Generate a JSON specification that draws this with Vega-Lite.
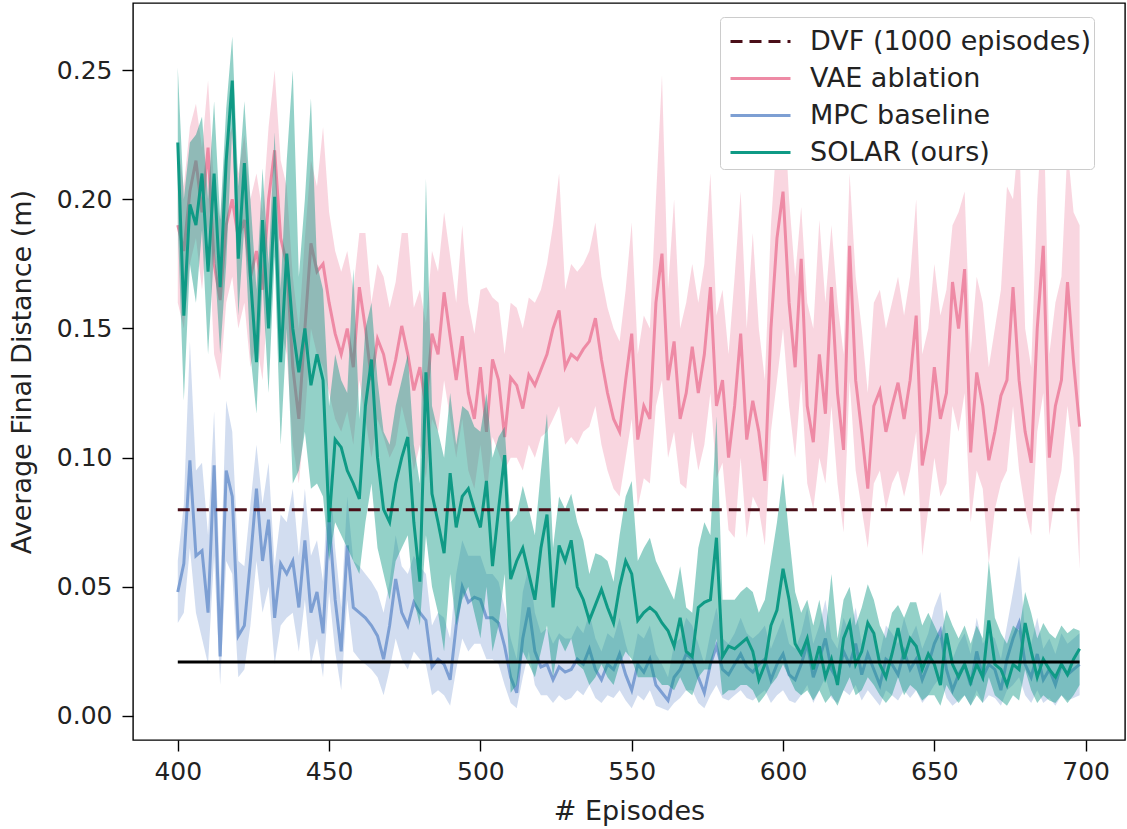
{
"$schema":"https://vega.github.io/schema/vega-lite/v6.json",
"width":992,"height":737,
"autosize":{"type":"none"},
"padding":{"left":133,"top":3,"right":2,"bottom":89},
"background":"white",
"config":{"view":{"stroke":"#000","strokeWidth":1.4},"font":"DejaVu Sans",
"axis":{"domain":false,"grid":false,"tickColor":"#000","tickWidth":1.4,"tickSize":11,"labelColor":"#222","titleColor":"#222","labelFont":"DejaVu Sans","titleFont":"DejaVu Sans","titleFontWeight":"normal"}},
"datasets":{
"dvf":[{"name":"DVF (1000 episodes)","ep":400,"ep2":698,"y":0.0798}],
"goal":[{"name":"goal","ep":400,"ep2":698,"y":0.0209}],
"d":[
{"ep":400,"v":0.190,"vl":0.160,"vh":0.222,"m":0.048,"ml":0.036,"mh":0.060,"s":0.222,"sl":0.190,"sh":0.251},
{"ep":402,"v":0.180,"vl":0.150,"vh":0.205,"m":0.059,"ml":0.040,"mh":0.082,"s":0.155,"sl":0.122,"sh":0.200},
{"ep":404,"v":0.203,"vl":0.175,"vh":0.228,"m":0.099,"ml":0.065,"mh":0.145,"s":0.198,"sl":0.175,"sh":0.222},
{"ep":406,"v":0.215,"vl":0.185,"vh":0.237,"m":0.062,"ml":0.040,"mh":0.095,"s":0.190,"sl":0.160,"sh":0.225},
{"ep":408,"v":0.195,"vl":0.165,"vh":0.220,"m":0.064,"ml":0.030,"mh":0.098,"s":0.210,"sl":0.188,"sh":0.232},
{"ep":410,"v":0.220,"vl":0.190,"vh":0.246,"m":0.040,"ml":0.020,"mh":0.070,"s":0.172,"sl":0.140,"sh":0.200},
{"ep":412,"v":0.175,"vl":0.140,"vh":0.205,"m":0.097,"ml":0.062,"mh":0.118,"s":0.210,"sl":0.180,"sh":0.238},
{"ep":414,"v":0.161,"vl":0.130,"vh":0.192,"m":0.023,"ml":0.012,"mh":0.050,"s":0.166,"sl":0.140,"sh":0.192},
{"ep":416,"v":0.190,"vl":0.160,"vh":0.222,"m":0.095,"ml":0.060,"mh":0.122,"s":0.215,"sl":0.175,"sh":0.235},
{"ep":418,"v":0.200,"vl":0.170,"vh":0.228,"m":0.085,"ml":0.055,"mh":0.110,"s":0.246,"sl":0.228,"sh":0.263},
{"ep":420,"v":0.185,"vl":0.150,"vh":0.210,"m":0.031,"ml":0.015,"mh":0.060,"s":0.177,"sl":0.155,"sh":0.205},
{"ep":422,"v":0.192,"vl":0.160,"vh":0.225,"m":0.035,"ml":0.018,"mh":0.058,"s":0.214,"sl":0.190,"sh":0.238},
{"ep":424,"v":0.170,"vl":0.135,"vh":0.200,"m":0.060,"ml":0.035,"mh":0.082,"s":0.170,"sl":0.140,"sh":0.200},
{"ep":426,"v":0.180,"vl":0.145,"vh":0.210,"m":0.088,"ml":0.060,"mh":0.105,"s":0.137,"sl":0.117,"sh":0.165},
{"ep":428,"v":0.165,"vl":0.130,"vh":0.195,"m":0.060,"ml":0.040,"mh":0.082,"s":0.192,"sl":0.168,"sh":0.212},
{"ep":430,"v":0.200,"vl":0.165,"vh":0.228,"m":0.076,"ml":0.050,"mh":0.098,"s":0.150,"sl":0.125,"sh":0.175},
{"ep":432,"v":0.219,"vl":0.185,"vh":0.250,"m":0.038,"ml":0.020,"mh":0.058,"s":0.201,"sl":0.178,"sh":0.226},
{"ep":434,"v":0.185,"vl":0.150,"vh":0.215,"m":0.059,"ml":0.035,"mh":0.078,"s":0.137,"sl":0.105,"sh":0.165},
{"ep":436,"v":0.175,"vl":0.140,"vh":0.205,"m":0.055,"ml":0.038,"mh":0.075,"s":0.179,"sl":0.150,"sh":0.215},
{"ep":438,"v":0.135,"vl":0.105,"vh":0.170,"m":0.060,"ml":0.040,"mh":0.088,"s":0.150,"sl":0.090,"sh":0.250},
{"ep":440,"v":0.115,"vl":0.090,"vh":0.150,"m":0.042,"ml":0.025,"mh":0.062,"s":0.133,"sl":0.095,"sh":0.170},
{"ep":442,"v":0.150,"vl":0.115,"vh":0.185,"m":0.068,"ml":0.045,"mh":0.088,"s":0.150,"sl":0.110,"sh":0.200},
{"ep":444,"v":0.183,"vl":0.150,"vh":0.215,"m":0.040,"ml":0.020,"mh":0.062,"s":0.128,"sl":0.088,"sh":0.239},
{"ep":446,"v":0.172,"vl":0.140,"vh":0.205,"m":0.048,"ml":0.030,"mh":0.068,"s":0.140,"sl":0.090,"sh":0.175},
{"ep":448,"v":0.175,"vl":0.135,"vh":0.228,"m":0.032,"ml":0.015,"mh":0.052,"s":0.130,"sl":0.085,"sh":0.165},
{"ep":450,"v":0.160,"vl":0.125,"vh":0.195,"m":0.076,"ml":0.048,"mh":0.100,"s":0.075,"sl":0.060,"sh":0.120},
{"ep":452,"v":0.148,"vl":0.115,"vh":0.180,"m":0.045,"ml":0.025,"mh":0.065,"s":0.107,"sl":0.075,"sh":0.140},
{"ep":454,"v":0.140,"vl":0.110,"vh":0.172,"m":0.025,"ml":0.010,"mh":0.042,"s":0.104,"sl":0.070,"sh":0.130},
{"ep":456,"v":0.150,"vl":0.118,"vh":0.180,"m":0.066,"ml":0.045,"mh":0.085,"s":0.095,"sl":0.065,"sh":0.125},
{"ep":458,"v":0.135,"vl":0.105,"vh":0.165,"m":0.042,"ml":0.025,"mh":0.060,"s":0.090,"sl":0.060,"sh":0.173},
{"ep":460,"v":0.166,"vl":0.130,"vh":0.187,"m":0.040,"ml":0.022,"mh":0.058,"s":0.084,"sl":0.055,"sh":0.115},
{"ep":462,"v":0.150,"vl":0.115,"vh":0.187,"m":0.038,"ml":0.020,"mh":0.055,"s":0.120,"sl":0.075,"sh":0.150},
{"ep":464,"v":0.130,"vl":0.100,"vh":0.160,"m":0.035,"ml":0.018,"mh":0.052,"s":0.138,"sl":0.090,"sh":0.160},
{"ep":466,"v":0.146,"vl":0.115,"vh":0.175,"m":0.031,"ml":0.015,"mh":0.048,"s":0.100,"sl":0.065,"sh":0.130},
{"ep":468,"v":0.140,"vl":0.108,"vh":0.170,"m":0.022,"ml":0.008,"mh":0.040,"s":0.080,"sl":0.055,"sh":0.110},
{"ep":470,"v":0.128,"vl":0.100,"vh":0.158,"m":0.035,"ml":0.018,"mh":0.052,"s":0.075,"sl":0.045,"sh":0.105},
{"ep":472,"v":0.138,"vl":0.105,"vh":0.168,"m":0.053,"ml":0.030,"mh":0.070,"s":0.090,"sl":0.060,"sh":0.120},
{"ep":474,"v":0.151,"vl":0.120,"vh":0.187,"m":0.040,"ml":0.022,"mh":0.058,"s":0.100,"sl":0.065,"sh":0.130},
{"ep":476,"v":0.140,"vl":0.110,"vh":0.187,"m":0.035,"ml":0.018,"mh":0.055,"s":0.108,"sl":0.070,"sh":0.140},
{"ep":478,"v":0.126,"vl":0.095,"vh":0.158,"m":0.044,"ml":0.025,"mh":0.062,"s":0.075,"sl":0.045,"sh":0.105},
{"ep":480,"v":0.135,"vl":0.105,"vh":0.165,"m":0.040,"ml":0.022,"mh":0.058,"s":0.052,"sl":0.035,"sh":0.090},
{"ep":482,"v":0.120,"vl":0.092,"vh":0.152,"m":0.037,"ml":0.020,"mh":0.055,"s":0.133,"sl":0.070,"sh":0.208},
{"ep":484,"v":0.148,"vl":0.115,"vh":0.180,"m":0.019,"ml":0.008,"mh":0.035,"s":0.086,"sl":0.050,"sh":0.120},
{"ep":486,"v":0.140,"vl":0.110,"vh":0.172,"m":0.022,"ml":0.010,"mh":0.040,"s":0.075,"sl":0.040,"sh":0.110},
{"ep":488,"v":0.164,"vl":0.130,"vh":0.195,"m":0.020,"ml":0.008,"mh":0.038,"s":0.063,"sl":0.025,"sh":0.100},
{"ep":490,"v":0.147,"vl":0.115,"vh":0.178,"m":0.014,"ml":0.004,"mh":0.030,"s":0.094,"sl":0.055,"sh":0.125},
{"ep":492,"v":0.130,"vl":0.100,"vh":0.160,"m":0.035,"ml":0.018,"mh":0.055,"s":0.073,"sl":0.035,"sh":0.105},
{"ep":494,"v":0.147,"vl":0.115,"vh":0.190,"m":0.050,"ml":0.030,"mh":0.068,"s":0.085,"sl":0.045,"sh":0.120},
{"ep":496,"v":0.125,"vl":0.095,"vh":0.160,"m":0.044,"ml":0.025,"mh":0.062,"s":0.088,"sl":0.050,"sh":0.118},
{"ep":498,"v":0.115,"vl":0.088,"vh":0.148,"m":0.046,"ml":0.028,"mh":0.062,"s":0.080,"sl":0.040,"sh":0.112},
{"ep":500,"v":0.135,"vl":0.105,"vh":0.165,"m":0.045,"ml":0.028,"mh":0.062,"s":0.073,"sl":0.030,"sh":0.110},
{"ep":502,"v":0.110,"vl":0.085,"vh":0.166,"m":0.038,"ml":0.022,"mh":0.055,"s":0.091,"sl":0.050,"sh":0.125},
{"ep":504,"v":0.138,"vl":0.108,"vh":0.162,"m":0.038,"ml":0.022,"mh":0.055,"s":0.058,"sl":0.025,"sh":0.100},
{"ep":506,"v":0.130,"vl":0.102,"vh":0.160,"m":0.036,"ml":0.020,"mh":0.052,"s":0.080,"sl":0.035,"sh":0.108},
{"ep":508,"v":0.108,"vl":0.095,"vh":0.140,"m":0.027,"ml":0.012,"mh":0.042,"s":0.101,"sl":0.055,"sh":0.112},
{"ep":510,"v":0.131,"vl":0.100,"vh":0.160,"m":0.015,"ml":0.005,"mh":0.030,"s":0.053,"sl":0.009,"sh":0.075},
{"ep":512,"v":0.128,"vl":0.100,"vh":0.158,"m":0.009,"ml":0.003,"mh":0.022,"s":0.060,"sl":0.012,"sh":0.078},
{"ep":514,"v":0.119,"vl":0.095,"vh":0.150,"m":0.030,"ml":0.015,"mh":0.048,"s":0.065,"sl":0.025,"sh":0.089},
{"ep":516,"v":0.132,"vl":0.105,"vh":0.162,"m":0.042,"ml":0.025,"mh":0.058,"s":0.055,"sl":0.020,"sh":0.080},
{"ep":518,"v":0.128,"vl":0.100,"vh":0.160,"m":0.025,"ml":0.012,"mh":0.040,"s":0.045,"sl":0.015,"sh":0.070},
{"ep":520,"v":0.134,"vl":0.108,"vh":0.165,"m":0.019,"ml":0.008,"mh":0.032,"s":0.065,"sl":0.025,"sh":0.095},
{"ep":522,"v":0.140,"vl":0.110,"vh":0.175,"m":0.020,"ml":0.008,"mh":0.034,"s":0.078,"sl":0.035,"sh":0.117},
{"ep":524,"v":0.150,"vl":0.115,"vh":0.190,"m":0.014,"ml":0.005,"mh":0.028,"s":0.042,"sl":0.015,"sh":0.065},
{"ep":526,"v":0.157,"vl":0.120,"vh":0.210,"m":0.019,"ml":0.008,"mh":0.032,"s":0.066,"sl":0.030,"sh":0.085},
{"ep":528,"v":0.135,"vl":0.105,"vh":0.165,"m":0.017,"ml":0.006,"mh":0.030,"s":0.060,"sl":0.025,"sh":0.080},
{"ep":530,"v":0.140,"vl":0.108,"vh":0.175,"m":0.018,"ml":0.007,"mh":0.030,"s":0.068,"sl":0.030,"sh":0.086},
{"ep":532,"v":0.138,"vl":0.105,"vh":0.172,"m":0.022,"ml":0.010,"mh":0.035,"s":0.050,"sl":0.020,"sh":0.075},
{"ep":534,"v":0.142,"vl":0.110,"vh":0.175,"m":0.020,"ml":0.008,"mh":0.032,"s":0.045,"sl":0.018,"sh":0.068},
{"ep":536,"v":0.145,"vl":0.112,"vh":0.180,"m":0.026,"ml":0.012,"mh":0.040,"s":0.037,"sl":0.012,"sh":0.055},
{"ep":538,"v":0.154,"vl":0.120,"vh":0.191,"m":0.018,"ml":0.007,"mh":0.030,"s":0.043,"sl":0.015,"sh":0.063},
{"ep":540,"v":0.138,"vl":0.105,"vh":0.170,"m":0.014,"ml":0.005,"mh":0.025,"s":0.049,"sl":0.020,"sh":0.062},
{"ep":542,"v":0.125,"vl":0.095,"vh":0.158,"m":0.020,"ml":0.008,"mh":0.032,"s":0.042,"sl":0.015,"sh":0.060},
{"ep":544,"v":0.115,"vl":0.088,"vh":0.150,"m":0.018,"ml":0.007,"mh":0.030,"s":0.036,"sl":0.012,"sh":0.052},
{"ep":546,"v":0.110,"vl":0.085,"vh":0.145,"m":0.024,"ml":0.010,"mh":0.038,"s":0.050,"sl":0.020,"sh":0.070},
{"ep":548,"v":0.130,"vl":0.100,"vh":0.165,"m":0.016,"ml":0.006,"mh":0.028,"s":0.060,"sl":0.025,"sh":0.085},
{"ep":550,"v":0.148,"vl":0.115,"vh":0.191,"m":0.010,"ml":0.003,"mh":0.020,"s":0.055,"sl":0.022,"sh":0.091},
{"ep":552,"v":0.107,"vl":0.081,"vh":0.140,"m":0.020,"ml":0.008,"mh":0.032,"s":0.037,"sl":0.015,"sh":0.060},
{"ep":554,"v":0.120,"vl":0.092,"vh":0.155,"m":0.017,"ml":0.006,"mh":0.030,"s":0.040,"sl":0.015,"sh":0.065},
{"ep":556,"v":0.115,"vl":0.090,"vh":0.150,"m":0.022,"ml":0.010,"mh":0.035,"s":0.042,"sl":0.015,"sh":0.069},
{"ep":558,"v":0.160,"vl":0.120,"vh":0.200,"m":0.012,"ml":0.004,"mh":0.024,"s":0.040,"sl":0.015,"sh":0.060},
{"ep":560,"v":0.179,"vl":0.130,"vh":0.248,"m":0.009,"ml":0.003,"mh":0.020,"s":0.036,"sl":0.012,"sh":0.055},
{"ep":562,"v":0.130,"vl":0.100,"vh":0.165,"m":0.006,"ml":0.002,"mh":0.015,"s":0.033,"sl":0.012,"sh":0.050},
{"ep":564,"v":0.145,"vl":0.110,"vh":0.200,"m":0.015,"ml":0.005,"mh":0.028,"s":0.027,"sl":0.010,"sh":0.045},
{"ep":566,"v":0.115,"vl":0.090,"vh":0.150,"m":0.018,"ml":0.007,"mh":0.030,"s":0.038,"sl":0.015,"sh":0.058},
{"ep":568,"v":0.125,"vl":0.088,"vh":0.160,"m":0.024,"ml":0.010,"mh":0.038,"s":0.025,"sl":0.010,"sh":0.042},
{"ep":570,"v":0.143,"vl":0.110,"vh":0.175,"m":0.022,"ml":0.010,"mh":0.035,"s":0.023,"sl":0.008,"sh":0.040},
{"ep":572,"v":0.125,"vl":0.095,"vh":0.160,"m":0.015,"ml":0.005,"mh":0.028,"s":0.042,"sl":0.015,"sh":0.065},
{"ep":574,"v":0.140,"vl":0.105,"vh":0.175,"m":0.009,"ml":0.003,"mh":0.020,"s":0.044,"sl":0.018,"sh":0.075},
{"ep":576,"v":0.166,"vl":0.125,"vh":0.210,"m":0.020,"ml":0.008,"mh":0.032,"s":0.045,"sl":0.018,"sh":0.070},
{"ep":578,"v":0.120,"vl":0.092,"vh":0.155,"m":0.027,"ml":0.012,"mh":0.042,"s":0.069,"sl":0.030,"sh":0.116},
{"ep":580,"v":0.130,"vl":0.098,"vh":0.165,"m":0.018,"ml":0.007,"mh":0.030,"s":0.023,"sl":0.008,"sh":0.045},
{"ep":582,"v":0.100,"vl":0.072,"vh":0.140,"m":0.016,"ml":0.006,"mh":0.028,"s":0.027,"sl":0.010,"sh":0.045},
{"ep":584,"v":0.120,"vl":0.069,"vh":0.170,"m":0.020,"ml":0.008,"mh":0.032,"s":0.026,"sl":0.010,"sh":0.045},
{"ep":586,"v":0.148,"vl":0.100,"vh":0.203,"m":0.024,"ml":0.010,"mh":0.038,"s":0.028,"sl":0.012,"sh":0.048},
{"ep":588,"v":0.107,"vl":0.069,"vh":0.150,"m":0.019,"ml":0.007,"mh":0.032,"s":0.030,"sl":0.012,"sh":0.050},
{"ep":590,"v":0.122,"vl":0.085,"vh":0.187,"m":0.017,"ml":0.006,"mh":0.030,"s":0.025,"sl":0.010,"sh":0.048},
{"ep":592,"v":0.110,"vl":0.080,"vh":0.150,"m":0.020,"ml":0.008,"mh":0.032,"s":0.014,"sl":0.005,"sh":0.040},
{"ep":594,"v":0.091,"vl":0.066,"vh":0.130,"m":0.022,"ml":0.010,"mh":0.035,"s":0.020,"sl":0.008,"sh":0.045},
{"ep":596,"v":0.150,"vl":0.110,"vh":0.190,"m":0.014,"ml":0.005,"mh":0.026,"s":0.035,"sl":0.012,"sh":0.060},
{"ep":598,"v":0.185,"vl":0.130,"vh":0.225,"m":0.020,"ml":0.008,"mh":0.032,"s":0.041,"sl":0.015,"sh":0.075},
{"ep":600,"v":0.203,"vl":0.150,"vh":0.245,"m":0.024,"ml":0.010,"mh":0.038,"s":0.057,"sl":0.020,"sh":0.094},
{"ep":602,"v":0.160,"vl":0.120,"vh":0.200,"m":0.016,"ml":0.006,"mh":0.028,"s":0.045,"sl":0.015,"sh":0.070},
{"ep":604,"v":0.135,"vl":0.100,"vh":0.170,"m":0.014,"ml":0.005,"mh":0.026,"s":0.028,"sl":0.010,"sh":0.048},
{"ep":606,"v":0.177,"vl":0.130,"vh":0.197,"m":0.020,"ml":0.008,"mh":0.032,"s":0.024,"sl":0.008,"sh":0.040},
{"ep":608,"v":0.120,"vl":0.090,"vh":0.160,"m":0.028,"ml":0.012,"mh":0.042,"s":0.030,"sl":0.010,"sh":0.045},
{"ep":610,"v":0.106,"vl":0.080,"vh":0.150,"m":0.015,"ml":0.005,"mh":0.028,"s":0.018,"sl":0.006,"sh":0.035},
{"ep":612,"v":0.140,"vl":0.100,"vh":0.192,"m":0.022,"ml":0.010,"mh":0.035,"s":0.027,"sl":0.010,"sh":0.045},
{"ep":614,"v":0.117,"vl":0.090,"vh":0.160,"m":0.030,"ml":0.015,"mh":0.045,"s":0.015,"sl":0.005,"sh":0.032},
{"ep":616,"v":0.166,"vl":0.120,"vh":0.190,"m":0.018,"ml":0.007,"mh":0.030,"s":0.022,"sl":0.008,"sh":0.055},
{"ep":618,"v":0.125,"vl":0.090,"vh":0.160,"m":0.014,"ml":0.005,"mh":0.026,"s":0.012,"sl":0.004,"sh":0.030},
{"ep":620,"v":0.103,"vl":0.071,"vh":0.140,"m":0.025,"ml":0.010,"mh":0.038,"s":0.030,"sl":0.010,"sh":0.045},
{"ep":622,"v":0.182,"vl":0.130,"vh":0.210,"m":0.020,"ml":0.008,"mh":0.032,"s":0.036,"sl":0.015,"sh":0.050},
{"ep":624,"v":0.130,"vl":0.095,"vh":0.170,"m":0.028,"ml":0.012,"mh":0.042,"s":0.020,"sl":0.008,"sh":0.035},
{"ep":626,"v":0.110,"vl":0.080,"vh":0.150,"m":0.016,"ml":0.006,"mh":0.028,"s":0.025,"sl":0.010,"sh":0.042},
{"ep":628,"v":0.088,"vl":0.065,"vh":0.125,"m":0.024,"ml":0.010,"mh":0.038,"s":0.036,"sl":0.015,"sh":0.051},
{"ep":630,"v":0.120,"vl":0.090,"vh":0.160,"m":0.018,"ml":0.007,"mh":0.030,"s":0.032,"sl":0.012,"sh":0.045},
{"ep":632,"v":0.126,"vl":0.095,"vh":0.165,"m":0.012,"ml":0.004,"mh":0.024,"s":0.020,"sl":0.008,"sh":0.035},
{"ep":634,"v":0.110,"vl":0.080,"vh":0.150,"m":0.022,"ml":0.010,"mh":0.035,"s":0.015,"sl":0.005,"sh":0.030},
{"ep":636,"v":0.120,"vl":0.090,"vh":0.160,"m":0.020,"ml":0.008,"mh":0.032,"s":0.024,"sl":0.008,"sh":0.040},
{"ep":638,"v":0.129,"vl":0.095,"vh":0.170,"m":0.016,"ml":0.006,"mh":0.028,"s":0.034,"sl":0.015,"sh":0.043},
{"ep":640,"v":0.115,"vl":0.085,"vh":0.155,"m":0.025,"ml":0.010,"mh":0.038,"s":0.022,"sl":0.008,"sh":0.038},
{"ep":642,"v":0.130,"vl":0.095,"vh":0.170,"m":0.018,"ml":0.007,"mh":0.030,"s":0.030,"sl":0.012,"sh":0.044},
{"ep":644,"v":0.155,"vl":0.110,"vh":0.200,"m":0.022,"ml":0.010,"mh":0.035,"s":0.027,"sl":0.010,"sh":0.044},
{"ep":646,"v":0.097,"vl":0.062,"vh":0.140,"m":0.014,"ml":0.005,"mh":0.026,"s":0.018,"sl":0.006,"sh":0.035},
{"ep":648,"v":0.110,"vl":0.080,"vh":0.150,"m":0.020,"ml":0.008,"mh":0.032,"s":0.024,"sl":0.008,"sh":0.040},
{"ep":650,"v":0.135,"vl":0.100,"vh":0.175,"m":0.028,"ml":0.012,"mh":0.042,"s":0.020,"sl":0.008,"sh":0.035},
{"ep":652,"v":0.115,"vl":0.085,"vh":0.155,"m":0.033,"ml":0.015,"mh":0.048,"s":0.012,"sl":0.004,"sh":0.030},
{"ep":654,"v":0.125,"vl":0.090,"vh":0.165,"m":0.018,"ml":0.007,"mh":0.030,"s":0.032,"sl":0.012,"sh":0.041},
{"ep":656,"v":0.168,"vl":0.120,"vh":0.190,"m":0.010,"ml":0.004,"mh":0.022,"s":0.020,"sl":0.008,"sh":0.035},
{"ep":658,"v":0.150,"vl":0.110,"vh":0.195,"m":0.016,"ml":0.006,"mh":0.028,"s":0.015,"sl":0.005,"sh":0.030},
{"ep":660,"v":0.173,"vl":0.125,"vh":0.203,"m":0.020,"ml":0.008,"mh":0.032,"s":0.020,"sl":0.008,"sh":0.035},
{"ep":662,"v":0.102,"vl":0.075,"vh":0.140,"m":0.012,"ml":0.004,"mh":0.024,"s":0.013,"sl":0.004,"sh":0.028},
{"ep":664,"v":0.133,"vl":0.095,"vh":0.170,"m":0.025,"ml":0.010,"mh":0.038,"s":0.020,"sl":0.008,"sh":0.035},
{"ep":666,"v":0.120,"vl":0.088,"vh":0.160,"m":0.015,"ml":0.005,"mh":0.028,"s":0.015,"sl":0.005,"sh":0.030},
{"ep":668,"v":0.099,"vl":0.059,"vh":0.135,"m":0.020,"ml":0.008,"mh":0.032,"s":0.037,"sl":0.015,"sh":0.060},
{"ep":670,"v":0.110,"vl":0.080,"vh":0.150,"m":0.018,"ml":0.007,"mh":0.030,"s":0.020,"sl":0.008,"sh":0.038},
{"ep":672,"v":0.124,"vl":0.090,"vh":0.165,"m":0.010,"ml":0.004,"mh":0.022,"s":0.018,"sl":0.006,"sh":0.032},
{"ep":674,"v":0.130,"vl":0.095,"vh":0.205,"m":0.022,"ml":0.010,"mh":0.035,"s":0.012,"sl":0.004,"sh":0.028},
{"ep":676,"v":0.166,"vl":0.120,"vh":0.200,"m":0.030,"ml":0.012,"mh":0.048,"s":0.020,"sl":0.008,"sh":0.035},
{"ep":678,"v":0.130,"vl":0.095,"vh":0.226,"m":0.036,"ml":0.015,"mh":0.062,"s":0.018,"sl":0.006,"sh":0.033},
{"ep":680,"v":0.110,"vl":0.080,"vh":0.150,"m":0.020,"ml":0.008,"mh":0.032,"s":0.036,"sl":0.018,"sh":0.048},
{"ep":682,"v":0.098,"vl":0.070,"vh":0.135,"m":0.015,"ml":0.005,"mh":0.028,"s":0.025,"sl":0.010,"sh":0.040},
{"ep":684,"v":0.150,"vl":0.110,"vh":0.200,"m":0.024,"ml":0.010,"mh":0.038,"s":0.015,"sl":0.005,"sh":0.030},
{"ep":686,"v":0.182,"vl":0.125,"vh":0.240,"m":0.014,"ml":0.005,"mh":0.026,"s":0.022,"sl":0.008,"sh":0.036},
{"ep":688,"v":0.100,"vl":0.070,"vh":0.140,"m":0.018,"ml":0.007,"mh":0.030,"s":0.018,"sl":0.006,"sh":0.032},
{"ep":690,"v":0.120,"vl":0.085,"vh":0.160,"m":0.012,"ml":0.004,"mh":0.024,"s":0.015,"sl":0.005,"sh":0.030},
{"ep":692,"v":0.130,"vl":0.095,"vh":0.170,"m":0.020,"ml":0.008,"mh":0.032,"s":0.020,"sl":0.008,"sh":0.035},
{"ep":694,"v":0.168,"vl":0.120,"vh":0.220,"m":0.016,"ml":0.006,"mh":0.028,"s":0.016,"sl":0.005,"sh":0.032},
{"ep":696,"v":0.137,"vl":0.100,"vh":0.195,"m":0.018,"ml":0.007,"mh":0.030,"s":0.022,"sl":0.008,"sh":0.034},
{"ep":698,"v":0.112,"vl":0.057,"vh":0.190,"m":0.020,"ml":0.008,"mh":0.032,"s":0.026,"sl":0.012,"sh":0.033}
]},
"layer":[
{"data":{"name":"d"},"mark":{"type":"area","color":"#ee8aa5","opacity":0.35},
 "encoding":{
  "x":{"field":"ep","type":"quantitative","title":"# Episodes","scale":{"domain":[385.2,713],"nice":false,"zero":false},
       "axis":{"values":[400,450,500,550,600,650,700],"format":"d","labelFontSize":25,"labelPadding":8,"titleFontSize":27,"titlePadding":14}},
  "y":{"field":"vl","type":"quantitative","title":"Average Final Distance (m)","scale":{"domain":[-0.0093,0.276],"nice":false,"zero":false},
       "axis":{"values":[0,0.05,0.1,0.15,0.2,0.25],"format":".2f","labelFontSize":25,"labelPadding":10,"titleFontSize":27,"titlePadding":20}},
  "y2":{"field":"vh"}}},
{"data":{"name":"d"},"mark":{"type":"line","strokeWidth":3},
 "encoding":{"x":{"field":"ep","type":"quantitative","title":"# Episodes"},"y":{"field":"v","type":"quantitative","title":"Average Final Distance (m)"},
  "color":{"datum":"VAE ablation","type":"nominal","scale":{"domain":["DVF (1000 episodes)","VAE ablation","MPC baseline","SOLAR (ours)"],"range":["#4a0f18","#ee8aa5","#7d9fd3","#0f9a85"]},
   "legend":{"title":null,"orient":"none","legendX":587,"legendY":14,"symbolType":"M-1.5,0H1.5","symbolSize":1600,"symbolStrokeWidth":3,"labelFontSize":27,"labelLimit":500,"labelFont":"DejaVu Sans","labelColor":"#222","padding":3,"rowPadding":2,"symbolOffset":16,"labelOffset":28,"strokeColor":"#cccccc","fillColor":"#ffffff","cornerRadius":4}}}},
{"data":{"name":"d"},"mark":{"type":"area","color":"#7d9fd3","opacity":0.35},
 "encoding":{"x":{"field":"ep","type":"quantitative","title":"# Episodes"},"y":{"field":"ml","type":"quantitative","title":"Average Final Distance (m)"},"y2":{"field":"mh"}}},
{"data":{"name":"d"},"mark":{"type":"line","strokeWidth":3},
 "encoding":{"x":{"field":"ep","type":"quantitative","title":"# Episodes"},"y":{"field":"m","type":"quantitative","title":"Average Final Distance (m)"},
  "color":{"datum":"MPC baseline","type":"nominal"}}},
{"data":{"name":"d"},"mark":{"type":"area","color":"#0f9a85","opacity":0.45},
 "encoding":{"x":{"field":"ep","type":"quantitative","title":"# Episodes"},"y":{"field":"sl","type":"quantitative","title":"Average Final Distance (m)"},"y2":{"field":"sh"}}},
{"data":{"name":"d"},"mark":{"type":"line","strokeWidth":3},
 "encoding":{"x":{"field":"ep","type":"quantitative","title":"# Episodes"},"y":{"field":"s","type":"quantitative","title":"Average Final Distance (m)"},
  "color":{"datum":"SOLAR (ours)","type":"nominal"}}},
{"data":{"name":"dvf"},"mark":{"type":"rule","strokeWidth":3},
 "encoding":{"x":{"field":"ep","type":"quantitative","title":"# Episodes"},"x2":{"field":"ep2"},"y":{"field":"y","type":"quantitative","title":"Average Final Distance (m)"},
  "color":{"datum":"DVF (1000 episodes)","type":"nominal"},
  "strokeDash":{"datum":"DVF (1000 episodes)","type":"nominal","scale":{"domain":["DVF (1000 episodes)","VAE ablation","MPC baseline","SOLAR (ours)"],"range":[[12,7],[1,0],[1,0],[1,0]]},
   "legend":{"title":null,"orient":"none","legendX":587,"legendY":14,"symbolType":"M-1.5,0H1.5","symbolSize":1600,"symbolStrokeWidth":3,"labelFontSize":27,"labelLimit":500,"labelFont":"DejaVu Sans","labelColor":"#222","padding":3,"rowPadding":2,"symbolOffset":16,"labelOffset":28,"strokeColor":"#cccccc","fillColor":"#ffffff","cornerRadius":4}}}},
{"data":{"name":"goal"},"mark":{"type":"rule","strokeWidth":3,"color":"#000"},
 "encoding":{"x":{"field":"ep","type":"quantitative","title":"# Episodes"},"x2":{"field":"ep2"},"y":{"field":"y","type":"quantitative","title":"Average Final Distance (m)"}}}
]
}
